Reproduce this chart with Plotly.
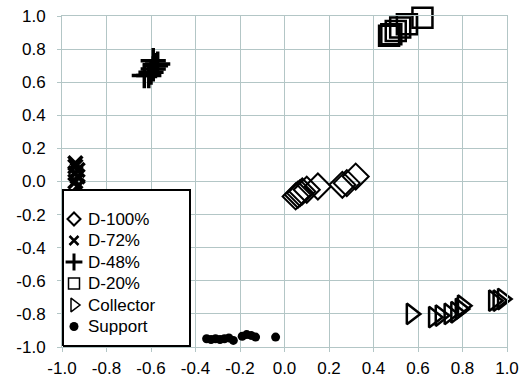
import plotly.graph_objects as go

# ---- data ----
d100_x = [0.05, 0.06, 0.07, 0.08, 0.10, 0.15, 0.26, 0.28, 0.32]
d100_y = [-0.09, -0.08, -0.07, -0.06, -0.05, -0.03, -0.02, -0.01, 0.03]

d72_x = [-0.94, -0.94, -0.93, -0.94, -0.93, -0.94, -0.93]
d72_y = [0.11, 0.09, 0.07, 0.05, 0.03, 0.00, -0.03]

d48_x = [-0.63, -0.61, -0.60, -0.59, -0.58, -0.59, -0.57]
d48_y = [0.64, 0.64, 0.66, 0.68, 0.70, 0.73, 0.71]

d20_x = [0.47, 0.48, 0.50, 0.52, 0.55, 0.62]
d20_y = [0.88, 0.89, 0.91, 0.93, 0.95, 0.99]

col_x = [0.57, 0.67, 0.70, 0.74, 0.77, 0.79, 0.80, 0.94, 0.96, 0.98]
col_y = [-0.80, -0.82, -0.81, -0.80, -0.79, -0.77, -0.75, -0.72, -0.72, -0.71]

sup_x = [-0.35, -0.33, -0.31, -0.29, -0.27, -0.25, -0.23, -0.19, -0.17, -0.15, -0.13, -0.04]
sup_y = [-0.95, -0.955, -0.95, -0.955, -0.95, -0.945, -0.96, -0.935, -0.925, -0.93, -0.94, -0.94]

series_names = ["D-100%", "D-72%", "D-48%", "D-20%", "Collector", "Support"]

ticks = [-1.0, -0.8, -0.6, -0.4, -0.2, 0.0, 0.2, 0.4, 0.6, 0.8, 1.0]
tick_text = [f"{t:.1f}" for t in ticks]

GRID = "#b3c6c6"
FONT = "Liberation Sans, Arial, sans-serif"

# plot-area geometry in pixels (for the hand-built legend)
W, H = 532, 380
L, R, T, B = 62, 25, 16, 33
PW, PH = W - L - R, H - T - B

def fx(px):
    return (px - L) / PW

def fy(py):
    return (H - B - py) / PH

data_markers = [
    dict(symbol="diamond-open", size=20, color="black", line=dict(width=2, color="black")),
    dict(symbol="x-thin-open", size=14, color="black", line=dict(width=3.5, color="black")),
    dict(symbol="cross-thin-open", size=18, color="black", line=dict(width=3.5, color="black")),
    dict(symbol="square-open", size=20, color="black", line=dict(width=2.5, color="black")),
    dict(symbol="triangle-right-open", size=18, color="black", line=dict(width=2.5, color="black")),
    dict(symbol="circle", size=9, color="black", line=dict(width=0)),
]
legend_markers = [
    dict(symbol="diamond-open", size=10, color="black", line=dict(width=2, color="black")),
    dict(symbol="x-thin-open", size=9, color="black", line=dict(width=2.5, color="black")),
    dict(symbol="cross-thin-open", size=12, color="black", line=dict(width=3, color="black")),
    dict(symbol="square-open", size=11, color="black", line=dict(width=1.5, color="black")),
    dict(symbol="triangle-right-open", size=12, color="black", line=dict(width=1.5, color="black")),
    dict(symbol="circle", size=9, color="black", line=dict(width=0)),
]

xs_all = [d100_x, d72_x, d48_x, d20_x, col_x, sup_x]
ys_all = [d100_y, d72_y, d48_y, d20_y, col_y, sup_y]

fig = go.Figure()
for name, xs, ys, mk in zip(series_names, xs_all, ys_all, data_markers):
    fig.add_trace(go.Scatter(x=xs, y=ys, mode="markers", name=name, marker=mk,
                             cliponaxis=False, showlegend=False))

# hand-built legend on an overlaid, hidden axis pair (0..1 of plot area)
bx0, bx1 = fx(63), fx(190)
by0, by1 = fy(346), fy(190)
fig.add_trace(go.Scatter(
    x=[bx0, bx1, bx1, bx0, bx0], y=[by0, by0, by1, by1, by0],
    mode="lines", fill="toself", fillcolor="white",
    line=dict(color="black", width=2), xaxis="x2", yaxis="y2",
    hoverinfo="skip", showlegend=False))

row_py = [219, 240.5, 262, 283.5, 305, 326.5]
for name, mk, py in zip(series_names, legend_markers, row_py):
    fig.add_trace(go.Scatter(x=[fx(74)], y=[fy(py)], mode="markers", marker=mk,
                             xaxis="x2", yaxis="y2", hoverinfo="skip",
                             showlegend=False, cliponaxis=False))
    fig.add_annotation(x=fx(86), y=fy(py), xref="paper", yref="paper",
                       text=name, showarrow=False, xanchor="left", yanchor="middle",
                       font=dict(family=FONT, size=17, color="black"))

axis_common = dict(
    range=[-1.0, 1.0], tickvals=ticks, ticktext=tick_text,
    showgrid=True, gridcolor=GRID, gridwidth=1,
    showline=True, linecolor=GRID, linewidth=1, mirror=True,
    ticks="outside", ticklen=4, tickcolor=GRID, automargin=False,
    zeroline=False, tickfont=dict(family=FONT, size=17, color="black"),
)
fig.update_layout(
    xaxis=dict(**axis_common, ticklabelstandoff=2),
    yaxis=dict(**axis_common, ticklabelstandoff=8),
    xaxis2=dict(overlaying="x", range=[0, 1], visible=False, fixedrange=True, automargin=False),
    yaxis2=dict(overlaying="y", range=[0, 1], visible=False, fixedrange=True, automargin=False),
    width=W, height=H,
    margin=dict(l=L, r=R, t=T, b=B),
    paper_bgcolor="white", plot_bgcolor="white",
    font=dict(family=FONT, color="black"),
    showlegend=False,
)

fig.write_html("out.html", config={"displayModeBar": False},
               post_script="document.body.style.margin='0';")
